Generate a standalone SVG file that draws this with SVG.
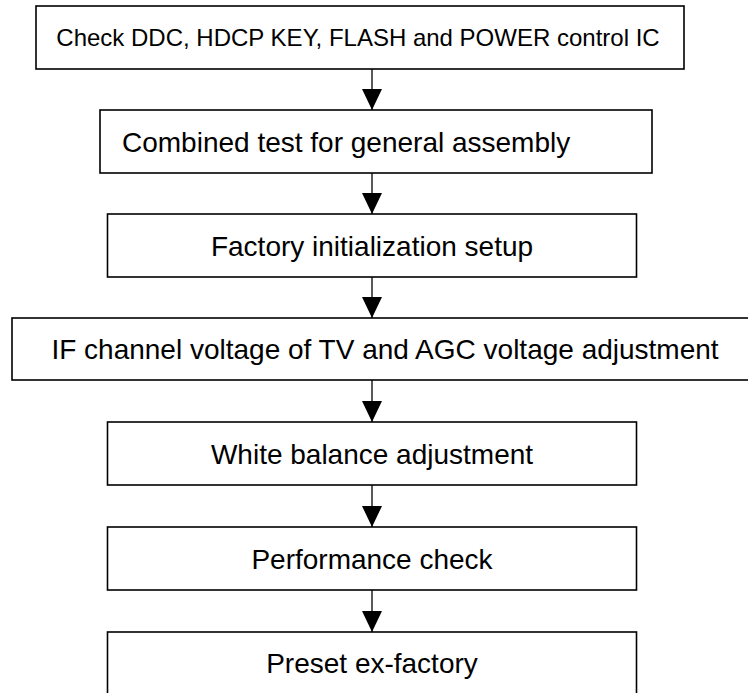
<svg xmlns="http://www.w3.org/2000/svg" width="748" height="693" viewBox="0 0 748 693">
<style>
.box{fill:#fff;stroke:#000;stroke-width:1.6}
.t{font-family:"Liberation Sans",Arial,sans-serif;font-size:28px;fill:#000;text-anchor:middle}
.conn{stroke:#000;stroke-width:1.3;fill:none;marker-end:url(#ah)}
</style>
<defs>
<marker id="ah" viewBox="0 0 21 20" refX="21" refY="10" markerWidth="21" markerHeight="20" markerUnits="userSpaceOnUse" orient="auto">
<path d="M0,0 L21,10 L0,20 z" fill="#000"/>
</marker>
</defs>
<rect width="748" height="693" fill="#fff"/>
<g id="n1"><rect class="box" x="36" y="6" width="648" height="63"/><text class="t" x="358" y="46" style="font-size:24px">Check DDC, HDCP KEY, FLASH and POWER control IC</text></g>
<g id="n2"><rect class="box" x="100" y="110" width="552" height="63"/><text class="t" x="122" y="152" style="text-anchor:start">Combined test for general assembly</text></g>
<g id="n3"><rect class="box" x="107.5" y="214" width="529" height="63"/><text class="t" x="372" y="256">Factory initialization setup</text></g>
<g id="n4"><rect class="box" x="12" y="318" width="750" height="62"/><text class="t" x="385" y="359">IF channel voltage of TV and AGC voltage adjustment</text></g>
<g id="n5"><rect class="box" x="107.5" y="422" width="529" height="63"/><text class="t" x="372" y="464">White balance adjustment</text></g>
<g id="n6"><rect class="box" x="107.5" y="527" width="529" height="63"/><text class="t" x="372" y="569">Performance check</text></g>
<g id="n7"><rect class="box" x="107.5" y="632" width="529" height="70"/><text class="t" x="372" y="673">Preset ex-factory</text></g>
<g id="connectors">
<line class="conn" x1="372" y1="69" x2="372" y2="110"/>
<line class="conn" x1="372" y1="173" x2="372" y2="214"/>
<line class="conn" x1="372" y1="277" x2="372" y2="318"/>
<line class="conn" x1="372" y1="380" x2="372" y2="422"/>
<line class="conn" x1="372" y1="485" x2="372" y2="527"/>
<line class="conn" x1="372" y1="590" x2="372" y2="632"/>
</g>
</svg>
